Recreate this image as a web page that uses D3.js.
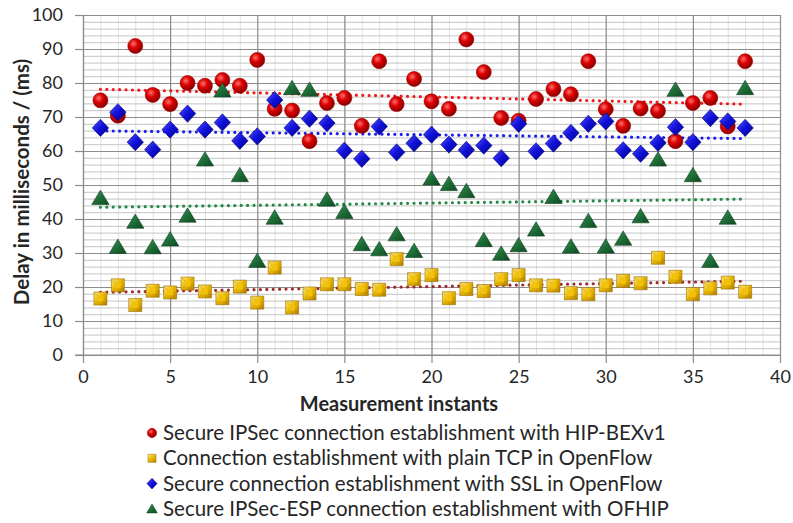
<!DOCTYPE html>
<html>
<head>
<meta charset="utf-8">
<script src="https://cdn.jsdelivr.net/npm/d3@7"></script>
<style>
  body { margin: 0; background: #fff; }
  text { font-family: Lato, "Open Sans", sans-serif; fill: #262626; }
</style>
</head>
<body>
<script>
// measurement instants 1..38
const instants = d3.range(1, 39);

const hipBex = [74.9, 70.4, 90.9, 76.5, 73.8, 80.0, 79.2, 80.9, 79.2, 86.8,
    72.4, 71.9, 62.9, 74.1, 75.6, 67.4, 86.4, 73.8, 81.2, 74.6,
    72.4, 92.8, 83.2, 69.7, 68.9, 75.3, 78.2, 76.7, 86.4, 72.3,
    67.4, 72.5, 71.8, 62.9, 74.1, 75.6, 67.2, 86.4];

const plainTcp = [16.6, 20.5, 14.7, 18.9, 18.4, 21.0, 18.7, 16.7, 20.1, 15.4,
    25.7, 14.0, 18.1, 20.8, 20.8, 19.4, 19.2, 28.2, 22.3, 23.5,
    16.7, 19.4, 18.8, 22.3, 23.5, 20.5, 20.4, 18.2, 17.9, 20.5,
    21.8, 21.1, 28.6, 23.0, 17.9, 19.6, 21.3, 18.6];

const sslOf = [66.8, 71.4, 62.6, 60.4, 66.3, 71.0, 66.3, 68.4, 63.0, 64.3,
    75.0, 66.8, 69.5, 68.2, 60.1, 57.7, 67.2, 59.6, 62.3, 64.8,
    61.9, 60.3, 61.6, 57.9, 68.0, 59.9, 62.2, 65.3, 68.0, 68.7,
    60.2, 59.2, 62.4, 67.0, 62.6, 69.7, 68.7, 66.8];

const ofhip = [46.2, 31.8, 39.2, 31.7, 34.0, 41.0, 57.5, 77.8, 52.9, 27.7,
    40.4, 78.5, 78.0, 45.7, 42.1, 32.6, 31.1, 35.5, 30.6, 51.9,
    50.3, 48.2, 33.8, 29.8, 32.3, 36.9, 46.5, 31.9, 39.4, 31.9,
    34.2, 40.8, 57.5, 78.0, 52.9, 27.7, 40.4, 78.5];

const seriesNames = [
    "Secure IPSec connection establishment with HIP-BEXv1",
    "Connection establishment with plain TCP in OpenFlow",
    "Secure connection establishment with SSL in OpenFlow",
    "Secure IPSec-ESP connection establishment with OFHIP"
];

const xTicks = d3.range(0, 41, 5);
const yTicks = d3.range(0, 101, 10);

const series = [
    { name: seriesNames[0], values: hipBex, shape: "circle", fill: "url(#gRed)", trend: "#f01818" },
    { name: seriesNames[1], values: plainTcp, shape: "square", fill: "url(#gGold)", trend: "#a0282c" },
    { name: seriesNames[2], values: sslOf, shape: "diamond", fill: "url(#gBlue)", trend: "#1c1cf0" },
    { name: seriesNames[3], values: ofhip, shape: "triangle", fill: "url(#gGreen)", trend: "#1f8a45" }
];

const width = 793, height = 523;
const margin = { top: 15, right: 13, bottom: 168, left: 83 };
const w = width - margin.left - margin.right,
    h = height - margin.top - margin.bottom;

const svg = d3.select("body").append("svg")
    .attr("width", width)
    .attr("height", height);

// gradients for the 3D looking markers
const defs = svg.append("defs");
const rg = defs.append("radialGradient").attr("id", "gRed")
    .attr("cx", "0.38").attr("cy", "0.35").attr("r", "0.65");
rg.append("stop").attr("offset", "0").attr("stop-color", "#ff7070");
rg.append("stop").attr("offset", "0.45").attr("stop-color", "#dc0000");
rg.append("stop").attr("offset", "1").attr("stop-color", "#8a0000");

function linGrad(id, c0, c1, c2) {
    const lg = defs.append("linearGradient").attr("id", id)
        .attr("x1", "0").attr("y1", "0").attr("x2", "1").attr("y2", "1");
    lg.append("stop").attr("offset", "0").attr("stop-color", c0);
    lg.append("stop").attr("offset", "0.5").attr("stop-color", c1);
    lg.append("stop").attr("offset", "1").attr("stop-color", c2);
}
linGrad("gGold", "#ffe680", "#eab800", "#b07c00");
linGrad("gBlue", "#5050ff", "#1010d8", "#00008a");
linGrad("gGreen", "#3c9a5a", "#1e6e38", "#0f4a22");

const g = svg.append("g")
    .attr("transform", "translate(" + margin.left + "," + margin.top + ")");

const x = d3.scaleLinear().domain([0, 40]).range([0, w]);
const y = d3.scaleLinear().domain([0, 100]).range([h, 0]);

// minor grid
g.append("g")
    .call(d3.axisBottom(x).tickValues(d3.range(0, 41, 1)).tickSize(h).tickFormat(""))
    .call(a => a.select(".domain").remove())
    .call(a => a.selectAll("line").attr("stroke", "#e2e2e2"));
g.append("g")
    .call(d3.axisLeft(y).tickValues(d3.range(0, 101, 2)).tickSize(-w).tickFormat(""))
    .call(a => a.select(".domain").remove())
    .call(a => a.selectAll("line").attr("stroke", "#c4c4c4"));

// major grid
g.append("g")
    .call(d3.axisBottom(x).tickValues(xTicks).tickSize(h).tickFormat(""))
    .call(a => a.select(".domain").remove())
    .call(a => a.selectAll("line").attr("stroke", "#8c8c8c").attr("stroke-width", 1.2));
g.append("g")
    .call(d3.axisLeft(y).tickValues(yTicks).tickSize(-w).tickFormat(""))
    .call(a => a.select(".domain").remove())
    .call(a => a.selectAll("line").attr("stroke", "#8c8c8c").attr("stroke-width", 1.2));

// axes
g.append("g")
    .attr("transform", "translate(0," + h + ")")
    .call(d3.axisBottom(x).tickValues(xTicks).tickSize(8).tickPadding(7))
    .call(a => a.select(".domain").attr("stroke", "#8c8c8c").attr("stroke-width", 1.2)
        .attr("d", "M-8,0H" + w))
    .call(a => a.selectAll("line").attr("stroke", "#8c8c8c").attr("stroke-width", 1.2))
    .call(a => a.selectAll("text").style("font-size", "18px").attr("fill", "#262626"));

g.append("g")
    .call(d3.axisLeft(y).tickValues(yTicks).tickSize(8).tickPadding(12))
    .call(a => a.select(".domain").attr("stroke", "#8c8c8c").attr("stroke-width", 1.2))
    .call(a => a.selectAll("line").attr("stroke", "#8c8c8c").attr("stroke-width", 1.2))
    .call(a => a.selectAll("text").style("font-size", "18px").attr("fill", "#262626"));

// axis titles
svg.append("text")
    .attr("transform", "translate(29," + (margin.top + h / 2 - 3) + ") rotate(-90)")
    .attr("text-anchor", "middle")
    .style("font-size", "20.5px").style("font-weight", "bold")
    .text("Delay in milliseconds / (ms)");

svg.append("text")
    .attr("x", 399).attr("y", 411)
    .attr("text-anchor", "middle")
    .style("font-size", "20px").style("font-weight", "bold")
    .text("Measurement instants");

// marker shapes
function shapePath(shape, s) {
    if (shape === "circle") return d3.symbol(d3.symbolCircle, Math.PI * s * s)();
    if (shape === "square") return "M" + -s + "," + -s + "H" + s + "V" + s + "H" + -s + "Z";
    if (shape === "diamond") return "M0," + (-s * 1.05) + "L" + s + ",0L0," + (s * 1.05) + "L" + -s + ",0Z";
    return "M0," + (-s * 0.95) + "L" + (s * 1.05) + "," + (s * 0.8) + "L" + (-s * 1.05) + "," + (s * 0.8) + "Z";
}
const markerSize = { circle: 7.5, square: 6.5, diamond: 8.2, triangle: 8.2 };
const markerStroke = { circle: "#9a0000", square: "#9a6e00", diamond: "#000080", triangle: "#0d3d1c" };

// linear trend line (least squares) per series
function trend(vals) {
    const xs = instants;
    const mx = d3.mean(xs), my = d3.mean(vals);
    let num = 0, den = 0;
    xs.forEach((xi, i) => { num += (xi - mx) * (vals[i] - my); den += (xi - mx) * (xi - mx); });
    const b = num / den, a0 = my - b * mx;
    return [xs[0], xs[xs.length - 1]].map(xi => [xi, a0 + b * xi]);
}

// trend lines drawn first, markers on top
series.forEach(s => {
    g.append("path")
        .datum(trend(s.values))
        .attr("fill", "none")
        .attr("stroke", s.trend)
        .attr("stroke-width", 3.2)
        .attr("stroke-linecap", "round")
        .attr("stroke-dasharray", "0,6.4")
        .attr("d", d3.line().x(d => x(d[0])).y(d => y(d[1])));
});

series.forEach(s => {
    const pts = g.append("g").selectAll("g")
        .data(s.values)
        .enter().append("g")
        .attr("transform", (d, i) => "translate(" + x(instants[i]) + "," + y(d) + ")");
    pts.append("path")
        .attr("d", shapePath(s.shape, markerSize[s.shape]))
        .attr("fill", s.fill)
        .attr("stroke", markerStroke[s.shape])
        .attr("stroke-width", 0.6);
    // bevel look on the gold squares
    if (s.shape === "square") {
        const k = markerSize.square;
        pts.append("path")
            .attr("d", "M" + -k + "," + -k + "L" + k + "," + k + "M" + k + "," + -k + "L" + -k + "," + k)
            .attr("stroke", "#b88a00").attr("stroke-width", 0.7).attr("opacity", 0.7);
        pts.append("rect")
            .attr("x", -k * 0.45).attr("y", -k * 0.45)
            .attr("width", k * 0.9).attr("height", k * 0.9)
            .attr("fill", "#f2c20a");
    }
});

// legend
const legend = svg.append("g").attr("transform", "translate(152,433)");
const item = legend.selectAll("g")
    .data(series)
    .enter().append("g")
    .attr("transform", (d, i) => "translate(0," + i * 25.3 + ")");
item.append("path")
    .attr("d", d => shapePath(d.shape, markerSize[d.shape] * 0.62))
    .attr("fill", d => d.fill)
    .attr("stroke", d => markerStroke[d.shape])
    .attr("stroke-width", 0.5);
item.append("text")
    .attr("x", 11)
    .attr("dy", "0.35em")
    .style("font-size", "20.5px")
    .text(d => d.name);
</script>
</body>
</html>
